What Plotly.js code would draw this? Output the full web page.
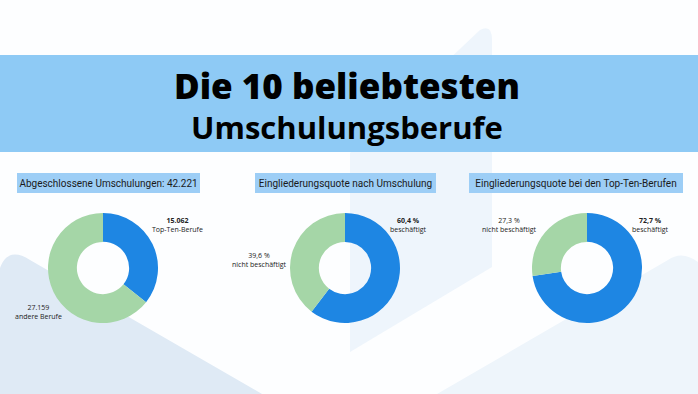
<!DOCTYPE html>
<html>
<head>
<meta charset="utf-8">
<script src="https://cdn.plot.ly/plotly-3.0.1.min.js"></script>
<style>
html,body{margin:0;padding:0;background:#fff;}
#chart{width:698px;height:394px;}
</style>
</head>
<body>
<div id="chart"></div>
<script>
// ---- data ----
const titleLines = ['Die 10 beliebtesten', 'Umschulungsberufe'];
const panelTitles = ['Abgeschlossene Umschulungen: ', 'Eingliederungsquote nach Umschulung', 'Eingliederungsquote bei den Top-Ten-Berufen'];
const totalLabels = ['Top-Ten-Berufe', 'andere Berufe'];
const totalValues = [15062, 27159];
const quoteLabels = ['beschäftigt', 'nicht beschäftigt'];
const quoteAllValues = [60.4, 39.6];
const quoteTopValues = [72.7, 27.3];

const blue = '#1e86e3';
const green = '#a5d6a7';
const W = 698, H = 394;
const X = x => x / W;
const Y = y => 1 - y / H;

function fmtInt(v){ return String(v).replace(/\B(?=(\d{3})+(?!\d))/g, '.'); }
function fmtPct(v){ return v.toFixed(1).replace('.', ',') + ' %'; }

function donut(values, labels, cx, cy, r){
  return {
    type: 'pie', values: values, labels: labels,
    sort: false, direction: 'clockwise', rotation: 0,
    hole: 0.475, textinfo: 'none', hoverinfo: 'label+value',
    marker: {colors: [blue, green], line: {width: 0}},
    domain: {x: [X(cx - r), X(cx + r)], y: [Y(cy + r), Y(cy - r)]},
    showlegend: false
  };
}

const total = totalValues.reduce((a, b) => a + b, 0);

const data = [
  donut(totalValues, totalLabels, 103, 268, 55),
  donut(quoteAllValues, quoteLabels, 345, 268, 55),
  donut(quoteTopValues, quoteLabels, 587, 268, 55)
];

function label(x, y, top, bottom, bold){
  const t = bold ? '<b>' + top + '</b><br>' + bottom : top + '<br>' + bottom;
  return {xref:'paper', yref:'paper', x: X(x), y: Y(y), xanchor:'center', yanchor:'middle',
    text: t, showarrow:false, align:'center',
    font:{family:'Open Sans, sans-serif', size:7, color:'#222'}};
}

function panelTitle(text, cx, w, size){
  return {xref:'paper', yref:'paper', x: X(cx), y: Y(183), xanchor:'center', yanchor:'middle',
    text: text, showarrow:false, width: w, height: 20, borderpad: 0, borderwidth: 0,
    bgcolor:'#9dcef6', font:{family:'Roboto, sans-serif', size:size, color:'#1a1a1a'}};
}

const annotations = [
  {xref:'paper', yref:'paper', x: X(347), y: Y(105), xanchor:'center', yanchor:'middle', showarrow:false,
   align:'center',
   text: '<span style="font-size:35px;font-weight:800">' + titleLines[0] + '</span><br>' +
         '<span style="font-size:31px">' + titleLines[1] + '</span>',
   font:{family:'Open Sans, sans-serif', size:31, weight:700, color:'#000'}},
  panelTitle(panelTitles[0] + fmtInt(total), 108.5, 183, 10),
  panelTitle(panelTitles[1], 345.5, 181, 10),
  panelTitle(panelTitles[2], 576, 214, 10),
  label(177, 225, fmtInt(totalValues[0]), totalLabels[0], true),
  label(38, 312, fmtInt(totalValues[1]), totalLabels[1], false),
  label(408, 225, fmtPct(quoteAllValues[0]), quoteLabels[0], true),
  label(259, 260, fmtPct(quoteAllValues[1]), quoteLabels[1], false),
  label(650, 225, fmtPct(quoteTopValues[0]), quoteLabels[0], true),
  label(509, 225, fmtPct(quoteTopValues[1]), quoteLabels[1], false)
];

function P(pts){
  return pts.map(p => X(p[0]).toFixed(4) + ',' + Y(p[1]).toFixed(4)).join(' ');
}

const shapes = [
  // vertical light band
  {type:'path', xref:'paper', yref:'paper', layer:'below', line:{width:0}, fillcolor:'#eef5fc',
   path: 'M ' + P([[350,153]]) + ' L ' + P([[480,30]]) + ' Q ' + P([[492,24],[492,40]]) + ' L ' + P([[492,267]]) + ' L ' + P([[350,352]]) + ' Z'},
  // left mountain
  {type:'path', xref:'paper', yref:'paper', layer:'below', line:{width:0}, fillcolor:'#dfeaf5',
   path: 'M ' + P([[0,394]]) + ' L ' + P([[0,268]]) + ' Q ' + P([[8,246],[30,260]]) + ' L ' + P([[262,394]]) + ' Z'},
  // right mountain
  {type:'path', xref:'paper', yref:'paper', layer:'below', line:{width:0}, fillcolor:'#eef5fb',
   path: 'M ' + P([[437,394]]) + ' L ' + P([[668,260]]) + ' Q ' + P([[682,250],[698,262]]) + ' L ' + P([[698,394]]) + ' Z'},
  // banner
  {type:'rect', xref:'paper', yref:'paper', layer:'below', line:{width:0}, fillcolor:'#8ecaf5',
   x0: 0, x1: 1, y0: Y(152), y1: Y(55)}
];

const layout = {
  width: W, height: H,
  margin: {l:0, r:0, t:0, b:0},
  paper_bgcolor: '#fdfeff', plot_bgcolor: '#fdfeff',
  showlegend: false,
  annotations: annotations,
  shapes: shapes
};

Plotly.newPlot('chart', data, layout, {displayModeBar:false, staticPlot:true});
</script>
</body>
</html>
